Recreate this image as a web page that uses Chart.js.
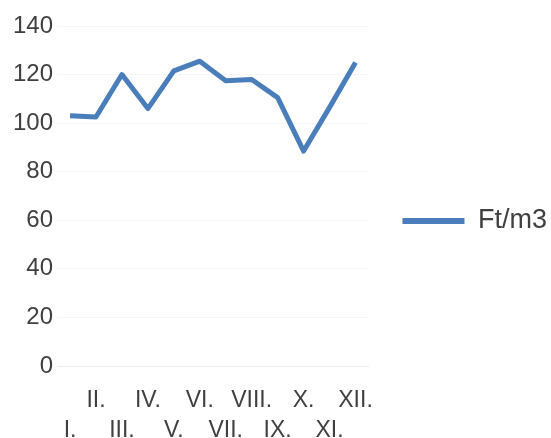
<!DOCTYPE html>
<html>
<head>
<meta charset="utf-8">
<script src="https://cdn.jsdelivr.net/npm/chart.js@4"></script>
<style>
  html, body { margin: 0; padding: 0; background: #fff; }
  #wrap { width: 551px; height: 438px; }
</style>
</head>
<body>
<div id="wrap"><canvas id="canvas"></canvas></div>
<script>
// havi ár, Ft/m3
var months = ['I.', 'II.', 'III.', 'IV.', 'V.', 'VI.', 'VII.', 'VIII.', 'IX.', 'X.', 'XI.', 'XII.'];
var prices = [103, 102.5, 120, 106, 121.5, 125.5, 117.5, 118, 110.5, 88.5, 106.5, 125];
var seriesName = 'Ft/m3';
var yTicks = { min: 0, max: 140, step: 20 };

var lineColor = '#4a7ebb';
var textColor = '#404040';

// the layout caps side boxes at a quarter of the width; let the legend take what it needs,
// and sit it a little higher than the middle of the canvas
var wideLegend = {
    id: 'wideLegend',
    beforeLayout: function (chart) {
        var legend = chart.legend;
        if (!legend || legend._wide) return;
        var fit = legend.fit;
        legend.fit = function () {
            this.maxWidth = 400;
            fit.call(this);
        };
        legend._wide = true;
    },
    afterLayout: function (chart) {
        if (chart.legend) chart.legend.top -= 22;
    }
};

var ctx = document.getElementById('canvas').getContext('2d');
window.myLine = new Chart(ctx, {
    type: 'line',
    data: {
        labels: months,
        datasets: [{
            label: seriesName,
            data: prices,
            borderColor: lineColor,
            backgroundColor: lineColor,
            borderWidth: 5,
            borderJoinStyle: 'round',
            pointRadius: 0,
            tension: 0,
            fill: false
        }]
    },
    plugins: [wideLegend],
    options: {
        responsive: true,
        maintainAspectRatio: false,
        animation: false,
        layout: {
            padding: { top: 26, left: 9, right: -6, bottom: 0 }
        },
        plugins: {
            tooltip: { enabled: false },
            legend: {
                position: 'right',
                labels: {
                    boxWidth: 62,
                    boxHeight: 6,
                    padding: 34,
                    color: textColor,
                    font: { family: 'Liberation Sans', size: 27 },
                    generateLabels: function (chart) {
                        // flat bar instead of an outlined box
                        return Chart.defaults.plugins.legend.labels.generateLabels(chart).map(function (item) {
                            item.lineWidth = 0;
                            return item;
                        });
                    }
                }
            }
        },
        scales: {
            x: {
                offset: true,
                grid: { display: false, drawTicks: false },
                border: { display: true, color: '#efefef', width: 1 },
                afterFit: function (scale) {
                    scale.height = 72;
                },
                ticks: {
                    autoSkip: false,
                    maxRotation: 0,
                    minRotation: 0,
                    padding: 20,
                    color: textColor,
                    font: { family: 'Liberation Sans', size: 23, lineHeight: 1.3 },
                    // every second month goes on the lower row
                    callback: function (value, index) {
                        var l = this.getLabelForValue(value);
                        return index % 2 ? [l, ''] : ['', l];
                    }
                }
            },
            y: {
                min: yTicks.min,
                max: yTicks.max,
                grid: { color: 'rgba(0,0,0,0.035)', drawTicks: false },
                border: { display: false },
                ticks: {
                    stepSize: yTicks.step,
                    padding: 4,
                    color: textColor,
                    font: { family: 'Liberation Sans', size: 24 }
                }
            }
        }
    }
});
</script>
</body>
</html>
